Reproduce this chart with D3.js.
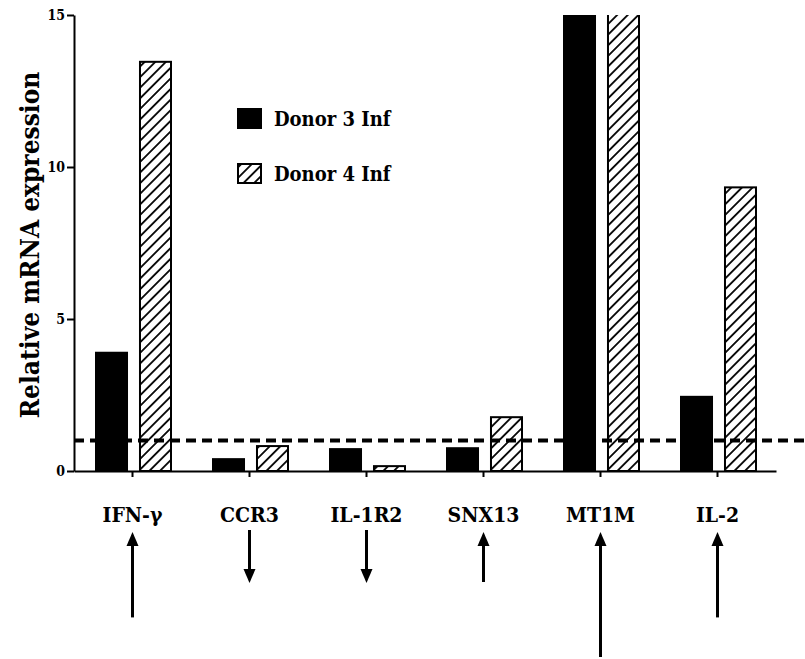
<!DOCTYPE html>
<html>
<head>
<meta charset="utf-8">
<script src="https://cdn.jsdelivr.net/npm/d3@7"></script>
<style>
  body { margin: 0; background: #fff; }
</style>
</head>
<body>
<div id="chart"></div>
<script>
// values
const genes = ['IFN-\u03b3', 'CCR3', 'IL-1R2', 'SNX13', 'MT1M', 'IL-2'];
const seriesNames = ['Donor 3 Inf', 'Donor 4 Inf'];
const donor3 = [3.89, 0.39, 0.72, 0.75, 16.5, 2.44];
const donor4 = [13.46, 0.82, 0.16, 1.77, 16.5, 9.33];
const yTicks = [0, 5, 10, 15];
const baseline = 1;
// arrows under labels: direction of regulation and relative length
const arrowDir = ['up', 'down', 'down', 'up', 'up', 'up'];
const arrowSize = [2.05, 1.27, 1.27, 1.2, 3, 2.05];

var FONT = "'DejaVu Serif Condensed', 'DejaVu Serif', serif";
var width = 805, height = 659;
var margin = {top: 15, left: 74, right: 29, bottom: 188};

var svg = d3.select('#chart').append('svg')
    .attr('width', width)
    .attr('height', height)
    .attr('font-family', FONT)
    .attr('font-weight', 'bold');

var defs = svg.append('defs');
var hatch = defs.append('pattern')
    .attr('id', 'hatch')
    .attr('patternUnits', 'userSpaceOnUse')
    .attr('width', 7.5)
    .attr('height', 7.5)
    .attr('patternTransform', 'rotate(45)');
hatch.append('rect').attr('width', 7.5).attr('height', 7.5).attr('fill', '#fff');
hatch.append('line')
    .attr('x1', 3.75).attr('y1', 0).attr('x2', 3.75).attr('y2', 7.5)
    .attr('stroke', '#000').attr('stroke-width', 1.8);

defs.append('clipPath').attr('id', 'plotclip')
  .append('rect')
    .attr('x', 0).attr('y', margin.top)
    .attr('width', width).attr('height', height);

var x = d3.scaleBand()
    .domain(genes)
    .range([margin.left, width - margin.right]);

// position of the two bars inside one category
var xs = d3.scaleBand()
    .domain(seriesNames)
    .range([22, 97])
    .paddingInner(0.295);

var y = d3.scaleLinear()
    .domain([0, 15])
    .range([height - margin.bottom, margin.top]);

var rows = genes.map(function(g, i) {
  return {gene: g, values: [
    {name: seriesNames[0], v: donor3[i]},
    {name: seriesNames[1], v: donor4[i]}
  ]};
});

// bars
var bars = svg.append('g').attr('clip-path', 'url(#plotclip)');
bars.selectAll('g.gene')
    .data(rows)
  .enter().append('g')
    .attr('class', 'gene')
    .attr('transform', function(d) { return 'translate(' + x(d.gene) + ',0)'; })
  .selectAll('rect')
    .data(function(d) { return d.values; })
  .enter().append('rect')
    .attr('x', function(d) { return xs(d.name); })
    .attr('y', function(d) { return y(d.v); })
    .attr('width', xs.bandwidth())
    .attr('height', function(d) { return y(0) - y(d.v); })
    .attr('fill', function(d) { return d.name === seriesNames[0] ? '#000' : 'url(#hatch)'; })
    .attr('stroke', '#000')
    .attr('stroke-width', 2);

// dashed reference line at 1
svg.append('line')
    .attr('x1', margin.left).attr('x2', width)
    .attr('y1', y(baseline)).attr('y2', y(baseline))
    .attr('stroke', '#000')
    .attr('stroke-width', 4)
    .attr('stroke-dasharray', '10,6');

// y axis
var yAxis = svg.append('g')
    .attr('transform', 'translate(' + margin.left + ',0)')
    .call(d3.axisLeft(y).tickValues(yTicks).tickSize(7).tickSizeOuter(0).tickPadding(2));
yAxis.selectAll('text')
    .attr('font-size', 14)
    .attr('font-family', FONT)
    .attr('font-weight', 'bold');
yAxis.selectAll('path, line').attr('stroke', '#000').attr('stroke-width', 2);

// x axis
var xAxis = svg.append('g')
    .attr('transform', 'translate(0,' + y(0) + ')')
    .call(d3.axisBottom(x).tickSize(6).tickSizeOuter(0).tickFormat(''));
xAxis.selectAll('path, line').attr('stroke', '#000').attr('stroke-width', 2);

svg.append('g').selectAll('text')
    .data(genes)
  .enter().append('text')
    .attr('x', function(d) { return x(d) + x.bandwidth() / 2; })
    .attr('y', 522)
    .attr('text-anchor', 'middle')
    .attr('font-size', 21)
    .text(function(d) { return d; });

// y title
svg.append('text')
    .attr('transform', 'translate(39,' + 245 + ') rotate(-90)')
    .attr('text-anchor', 'middle')
    .attr('font-size', 26)
    .text('Relative mRNA expression');

// legend
var legend = svg.append('g').attr('transform', 'translate(237,108)');
var li = legend.selectAll('g')
    .data(seriesNames)
  .enter().append('g')
    .attr('transform', function(d, i) { return 'translate(0,' + i * 55 + ')'; });
li.append('rect')
    .attr('x', 1).attr('y', 1)
    .attr('width', 23).attr('height', 19)
    .attr('fill', function(d, i) { return i === 0 ? '#000' : 'url(#hatch)'; })
    .attr('stroke', '#000')
    .attr('stroke-width', 2);
li.append('text')
    .attr('x', 37)
    .attr('y', 18)
    .attr('font-size', 20)
    .text(function(d) { return d; });

// arrows
var arrowLen = d3.scaleLinear().domain([0, 3]).range([0, 125]);
var arrows = svg.append('g');
genes.forEach(function(g, i) {
  var cx = x(g) + x.bandwidth() / 2;
  var len = arrowLen(arrowSize[i]);
  var tip, tail;
  if (arrowDir[i] === 'up') { tip = 532; tail = tip + len; }
  else { tail = 530; tip = tail + len; }
  var dir = arrowDir[i] === 'up' ? 1 : -1;
  arrows.append('line')
      .attr('x1', cx).attr('x2', cx)
      .attr('y1', tail).attr('y2', tip + dir * 10)
      .attr('stroke', '#000')
      .attr('stroke-width', 3);
  arrows.append('path')
      .attr('d', d3.line()([[cx, tip], [cx - 6, tip + dir * 14], [cx + 6, tip + dir * 14]]) + 'Z')
      .attr('fill', '#000');
});
</script>
</body>
</html>
